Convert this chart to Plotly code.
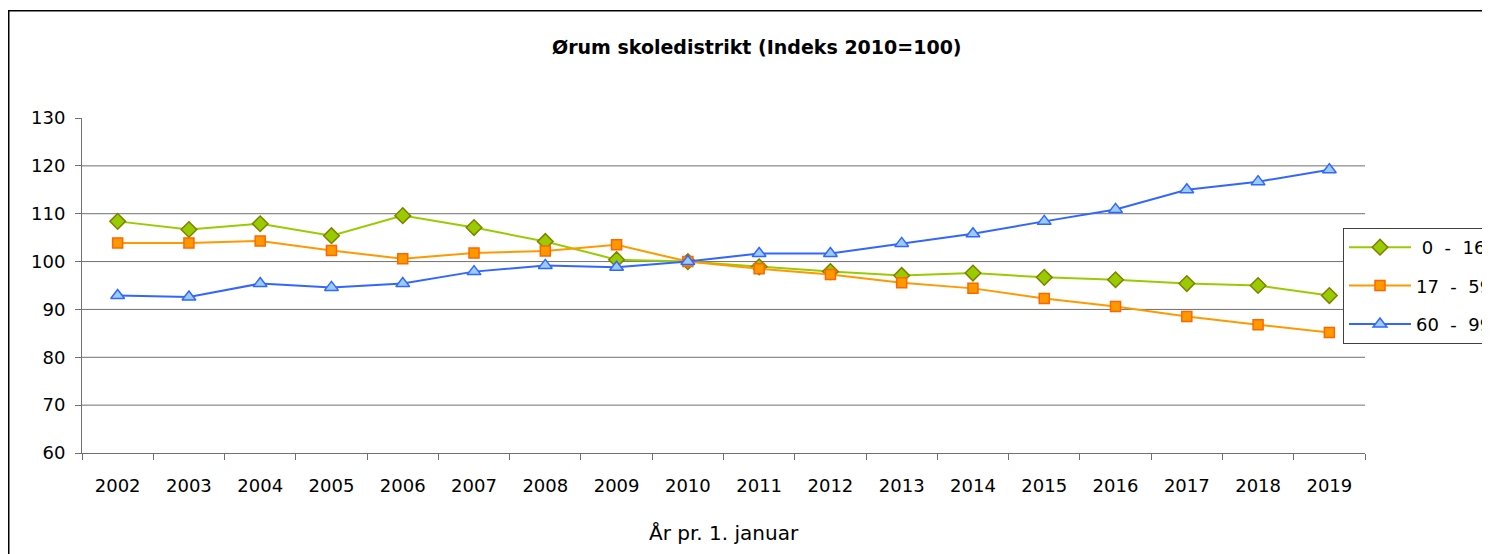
import plotly.graph_objects as go

years = [str(y) for y in range(2002, 2020)]
age_0_16 = [108.4, 106.7, 107.9, 105.4, 109.6, 107.1, 104.2, 100.4, 100.0, 98.9, 97.9, 97.1, 97.6, 96.7, 96.2, 95.4, 95.0, 92.9]
age_17_59 = [103.9, 103.9, 104.3, 102.3, 100.6, 101.8, 102.2, 103.5, 100.0, 98.5, 97.3, 95.6, 94.4, 92.3, 90.6, 88.5, 86.8, 85.2]
age_60_99 = [92.9, 92.6, 95.4, 94.6, 95.4, 97.9, 99.2, 98.8, 100.0, 101.7, 101.7, 103.8, 105.8, 108.4, 110.9, 115.0, 116.7, 119.2]
series_names = [" 0  -  16", "17  -  59", "60  -  99"]
y_ticks = [60, 70, 80, 90, 100, 110, 120, 130]
grid_vals = [70, 80, 90, 100, 110, 120]

FONT = "DejaVu Sans"
W, H = 1490, 554
OFF = 8  # page body margin offset
L, R, T, B = 82 - OFF, 1365 - OFF, 118 - OFF, 453 - OFF

def px(x):
    return (x - OFF - L) / (R - L)

def py(y):
    return (B - (y - OFF)) / (B - T)

fig = go.Figure()
fig.add_trace(go.Scatter(
    x=years, y=age_0_16, name=series_names[0], mode="lines+markers", legendgroup="a",
    line=dict(color="#99cc00", width=2),
    marker=dict(symbol="diamond", size=12, color="#99cc00", line=dict(color="#808000", width=1.5))))
fig.add_trace(go.Scatter(
    x=years, y=age_17_59, name=series_names[1], mode="lines+markers", legendgroup="b",
    line=dict(color="#ff9900", width=2),
    marker=dict(symbol="square", size=10, color="#ff9900", line=dict(color="#ff6600", width=1.5))))
fig.add_trace(go.Scatter(
    x=years, y=age_60_99, name=series_names[2], mode="lines+markers", legendgroup="c",
    line=dict(color="#3366ff", width=2),
    marker=dict(symbol="triangle-up", size=12, color="#99ccff", line=dict(color="#3366ff", width=1.5))))

shapes = []
for g in grid_vals:
    shapes.append(dict(type="line", xref="paper", yref="y", x0=0, x1=1, y0=g, y1=g,
                       line=dict(color="#707070", width=1), layer="below"))
# outer chart frame
shapes.append(dict(type="rect", xref="paper", yref="paper",
                   x0=px(8.75), x1=px(1520), y0=py(10.75), y1=py(600),
                   line=dict(color="#000000", width=1.5), layer="below"))

fig.update_layout(
    width=W, height=H,
    margin=dict(l=L, r=W - R, t=T, b=H - B, autoexpand=False),
    paper_bgcolor="white", plot_bgcolor="white",
    font=dict(family=FONT, size=18, color="black"),
    showlegend=True,
    legend=dict(xref="container", yref="container",
                x=(1343 - OFF) / W, y=1 - (228 - OFF) / H, xanchor="left", yanchor="top",
                bordercolor="#404040", borderwidth=1, bgcolor="white",
                font=dict(family=FONT, size=18, color="black"),
                traceorder="grouped", tracegroupgap=12, itemwidth=62),
    shapes=shapes,
    annotations=[
        dict(text="<b>Ørum skoledistrikt (Indeks 2010=100)</b>", xref="paper", yref="paper",
             x=px(757), y=py(47), xanchor="center", yanchor="middle", showarrow=False,
             font=dict(family=FONT, size=19, color="black")),
        dict(text="År pr. 1. januar", xref="paper", yref="paper",
             x=px(724), y=py(533), xanchor="center", yanchor="middle", showarrow=False,
             font=dict(family=FONT, size=20, color="black")),
    ],
)
fig.update_xaxes(type="category", categoryorder="array", categoryarray=years,
                 range=[-0.5, len(years) - 0.5],
                 showline=True, linecolor="#707070", linewidth=1,
                 ticks="outside", tickson="boundaries", ticklen=6, tickcolor="#707070",
                 showgrid=False, zeroline=False, tickfont=dict(size=18),
                 ticklabelstandoff=16)
fig.update_yaxes(range=[60, 130], tickvals=y_ticks, showline=True, linecolor="#707070",
                 linewidth=1, ticks="outside", ticklen=6, tickcolor="#707070",
                 showgrid=False, zeroline=False, tickfont=dict(size=18),
                 ticklabelstandoff=6)

fig.write_html("out.html")
